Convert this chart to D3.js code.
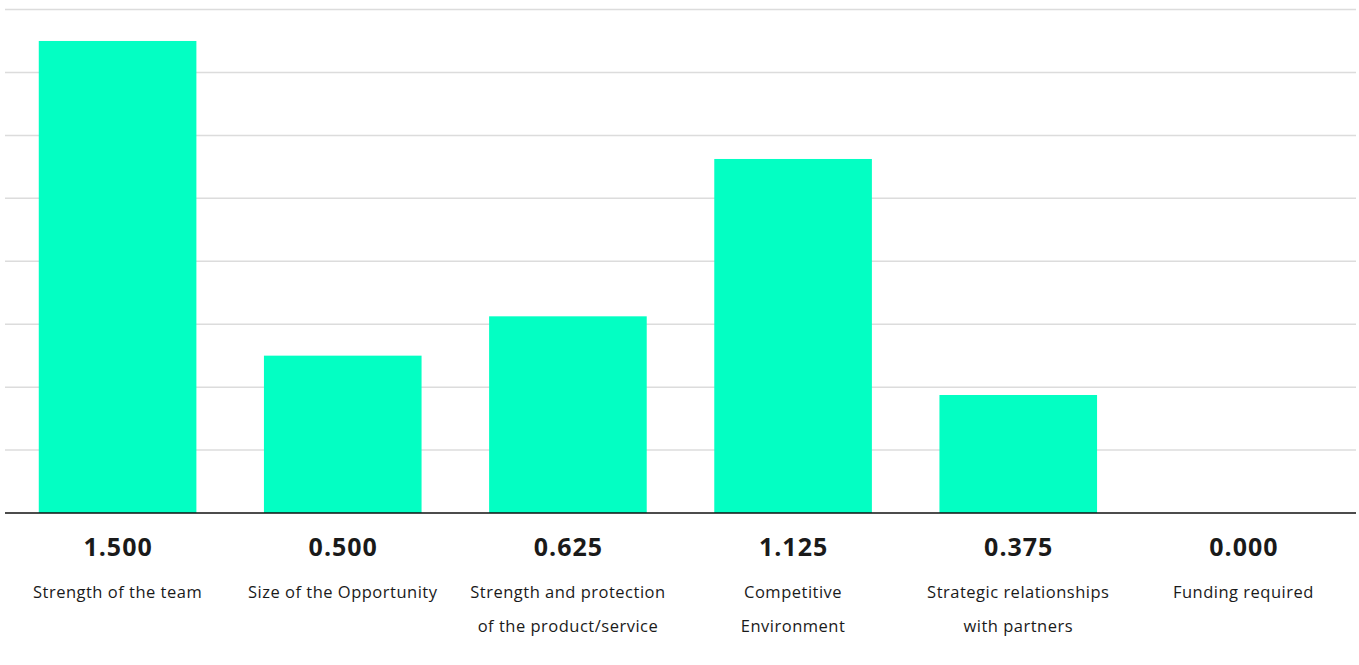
<!DOCTYPE html>
<html>
<head>
<meta charset="utf-8">
<script src="https://cdn.jsdelivr.net/npm/d3@7"></script>
<style>
  body { margin: 0; background: #fff; }
  text { font-family: "Open Sans", Lato, sans-serif; fill: #1a1a1a; }
</style>
</head>
<body>
<svg id="chart" width="1359" height="665"></svg>
<script>
var categories = [
  ["Strength of the team"],
  ["Size of the Opportunity"],
  ["Strength and protection", "of the product/service"],
  ["Competitive", "Environment"],
  ["Strategic relationships", "with partners"],
  ["Funding required"]
];
var values = [1.5, 0.5, 0.625, 1.125, 0.375, 0];
var gridTicks = [0.2, 0.4, 0.6, 0.8, 1.0, 1.2, 1.4, 1.6];

var svg = d3.select("#chart"),
  margin = { left: 5, right: 3, top: 0, bottom: 0 },
  baseY = 513;

var x = d3.scaleBand()
  .domain(d3.range(values.length))
  .range([margin.left, 1359 - margin.right])
  .paddingInner(0.3)
  .paddingOuter(0.15);

var y = d3.scaleLinear()
  .domain([0, 1.6])
  .range([baseY, 9.5]);

// grid
svg.append("g")
  .selectAll("line")
  .data(gridTicks)
  .enter().append("line")
  .attr("x1", margin.left)
  .attr("x2", 1359 - margin.right)
  .attr("y1", function (d) { return y(d); })
  .attr("y2", function (d) { return y(d); })
  .attr("stroke", "#dcdcdc")
  .attr("stroke-width", 1.5);

// bars
svg.append("g")
  .selectAll("rect")
  .data(values)
  .enter().append("rect")
  .attr("x", function (d, i) { return x(i); })
  .attr("y", function (d) { return y(d); })
  .attr("width", x.bandwidth())
  .attr("height", function (d) { return baseY - y(d); })
  .attr("fill", "#03ffc3");

// baseline
svg.append("line")
  .attr("x1", margin.left)
  .attr("x2", 1359 - margin.right)
  .attr("y1", y(0))
  .attr("y2", y(0))
  .attr("stroke", "#111")
  .attr("stroke-width", 1.6);

// value labels
svg.append("g")
  .selectAll("text")
  .data(values)
  .enter().append("text")
  .attr("x", function (d, i) { return x(i) + x.bandwidth() / 2 + 0.5; })
  .attr("y", 556)
  .attr("text-anchor", "middle")
  .style("font-size", "25px")
  .style("letter-spacing", "1px")
  .style("font-weight", "bold")
  .text(function (d) { return d3.format(".3f")(d); });

// category labels
var cat = svg.append("g")
  .selectAll("text")
  .data(categories)
  .enter().append("text")
  .attr("text-anchor", "middle")
  .style("font-size", "16.5px")
  .style("letter-spacing", "0.5px")
  .attr("transform", function (d, i) { return "translate(" + (x(i) + x.bandwidth() / 2) + ",598)"; });

cat.selectAll("tspan")
  .data(function (d) { return d; })
  .enter().append("tspan")
  .attr("x", 0)
  .attr("y", function (d, j) { return j * 34; })
  .text(function (d) { return d; });
</script>
</body>
</html>
